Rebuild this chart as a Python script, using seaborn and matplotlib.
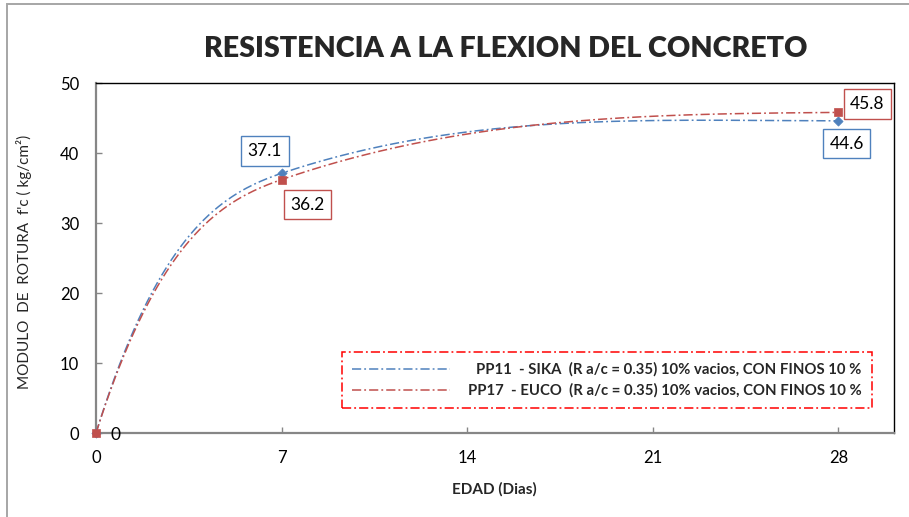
import numpy as np
import matplotlib
matplotlib.use("Agg")
import matplotlib.pyplot as plt
import seaborn as sns
from matplotlib.lines import Line2D
from matplotlib.patches import Rectangle
from matplotlib.offsetbox import DrawingArea

# ---- data -------------------------------------------------------------
edad = [0, 7, 28]                      # days
sika = [0, 37.1, 44.6]                 # PP11 - SIKA
euco = [0, 36.2, 45.8]                 # PP17 - EUCO
series_names = [
    "PP11  - SIKA  (R a/c = 0.35) 10% vacios, CON FINOS 10 %",
    "PP17  - EUCO  (R a/c = 0.35) 10% vacios, CON FINOS 10 %",
]
x_ticks = [0, 7, 14, 21, 28]
y_ticks = [0, 10, 20, 30, 40, 50]

title = "RESISTENCIA A LA FLEXION DEL CONCRETO"
x_title = "EDAD (Dias)"
y_title = "MODULO  DE  ROTURA  f'c ( kg/cm²)"

# ---- style ------------------------------------------------------------
BLUE = "#4F81BD"
RED = "#C0504D"
AXIS_GRAY = "#868686"
DASH = (0, (6, 2, 1.2, 2))
W, H, DPI = 909, 517, 100


def smooth_curve(x, y, start_gain=2.3, mid_gain=0.8, n=80):
    """Smoothed connector through the points (cubic Hermite segments)."""
    x = np.asarray(x, float)
    y = np.asarray(y, float)
    d = np.diff(y) / np.diff(x)
    m = np.empty_like(y)
    m[1:-1] = mid_gain * (y[2:] - y[:-2]) / (x[2:] - x[:-2])
    m[0] = start_gain * d[0]
    m[-1] = max(0.0, (3 * d[-1] - m[-2]) / 2)
    xs, ys = [], []
    t = np.linspace(0, 1, n)
    h00 = 2 * t**3 - 3 * t**2 + 1
    h10 = t**3 - 2 * t**2 + t
    h01 = -2 * t**3 + 3 * t**2
    h11 = t**3 - t**2
    for i in range(len(x) - 1):
        h = x[i + 1] - x[i]
        xs.append(x[i] + h * t)
        ys.append(h00 * y[i] + h10 * h * m[i] + h01 * y[i + 1] + h11 * h * m[i + 1])
    return np.concatenate(xs), np.concatenate(ys)


sns.set_theme(style="white")
plt.rcParams["font.family"] = ["Lato", "DejaVu Sans"]

fig = plt.figure(figsize=(W / DPI, H / DPI), dpi=DPI)
fig.patch.set_facecolor("white")
ax = fig.add_axes([96 / W, 84 / H, 798 / W, 350 / H])

# chart outer border
fig.patches.append(Rectangle((7 / W, -0.05), 1.2, 1 - 4 / H + 0.05,
                             transform=fig.transFigure, fill=False,
                             edgecolor="#A6A6A6", lw=1.4, zorder=0))

series = [
    dict(vals=sika, color=BLUE, marker="D", size=22,
         offsets=[(14, -1.5), (-12, 16), (6, -16.5)]),
    dict(vals=euco, color=RED, marker="s", size=30,
         offsets=[(14, -1.5), (18.5, -18), (21, 6)]),
]

for k, s in enumerate(series):
    cx, cy = smooth_curve(edad, s["vals"])
    sns.lineplot(x=cx, y=cy, ax=ax, color=s["color"], lw=1.1,
                 linestyle=DASH, sort=False, estimator=None, zorder=3 + k)
    sns.scatterplot(x=edad, y=s["vals"], ax=ax, marker=s["marker"],
                    s=s["size"], color=s["color"], edgecolor=s["color"],
                    linewidth=0.5, zorder=5 + k, clip_on=False)

# value labels
for k, s in enumerate(series):
    for i, (xv, yv) in enumerate(zip(edad, s["vals"])):
        if yv == 0 and k > 0:
            continue
        box = None
        if yv != 0:
            box = dict(boxstyle="square,pad=0.38", fc="white",
                       ec=s["color"], lw=1.0)
        ax.annotate(f"{yv:g}", (xv, yv), xytext=s["offsets"][i],
                    textcoords="offset points", ha="center", va="center",
                    fontsize=12.5, color="black", bbox=box, zorder=10,
                    annotation_clip=False)

ax.set_xlim(0, 30.1)
ax.set_ylim(0, 50)
ax.set_xticks(x_ticks)
ax.set_yticks(y_ticks)
ax.tick_params(axis="both", direction="in", length=4, width=1,
               color=AXIS_GRAY, labelsize=12, labelcolor="black")
ax.tick_params(axis="x", pad=12)
ax.tick_params(axis="y", pad=12)
ax.tick_params(bottom=True, left=True)
for side in ("left", "bottom"):
    ax.spines[side].set_color(AXIS_GRAY)
    ax.spines[side].set_linewidth(1.6)
for side in ("top", "right"):
    ax.spines[side].set_color("black")
    ax.spines[side].set_linewidth(1.0)
ax.set_xlabel("")
ax.set_ylabel("")

# legend
handles = [Line2D([], [], color=BLUE, lw=1.1, linestyle=DASH),
           Line2D([], [], color=RED, lw=1.1, linestyle=DASH)]
leg = ax.legend(handles, series_names, loc="lower right",
                bbox_to_anchor=(0.972, 0.071), bbox_transform=ax.transAxes,
                borderaxespad=0, frameon=True, fancybox=False,
                prop=dict(weight="bold", size=10.7), handlelength=6.6,
                handletextpad=0.6, borderpad=0.68, labelspacing=0.45)
frame = leg.get_frame()
frame.set_edgecolor("#FF0000")
frame.set_linestyle(DASH)
frame.set_linewidth(1.1)
frame.set_facecolor("white")
frame.set_alpha(1)

fig.text(505.5 / W, 1 - 57 / H, title, ha="center", va="baseline",
         fontsize=24, weight="heavy",
         family=["Liberation Sans Narrow", "Lato", "DejaVu Sans"])
fig.text(494 / W, 1 - 489 / H, x_title, ha="center", va="center",
         fontsize=11, weight="bold")
fig.text(24 / W, 1 - 262 / H, y_title, ha="center", va="center",
         rotation=90, fontsize=11)

# right-align the legend texts while keeping the handles in one column
fig.canvas.draw()
renderer = fig.canvas.get_renderer()
widths = [t.get_window_extent(renderer).width for t in leg.get_texts()]
wmax = max(widths)
for col in leg._legend_handle_box.get_children():
    for row, w in zip(col.get_children(), widths):
        handle_box, text_box = row.get_children()
        row._children = [handle_box, DrawingArea((wmax - w) * 72 / DPI, 0),
                         text_box]

# fit the title to its width
ttl = fig.texts[0]
tw = ttl.get_window_extent(renderer).width
ttl.set_fontsize(24 * 605 / tw)

fig.savefig("out.png", dpi=DPI, facecolor="white")
